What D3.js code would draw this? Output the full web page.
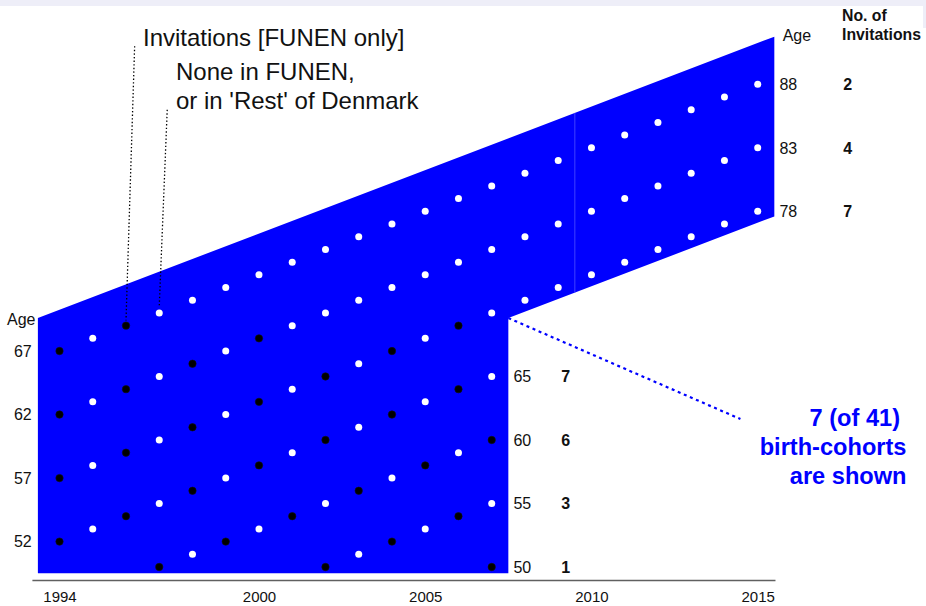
<!DOCTYPE html>
<html>
<head>
<meta charset="utf-8">
<script src="https://cdn.jsdelivr.net/npm/d3@7"></script>
<style>
  html, body { margin: 0; padding: 0; background: #fff; }
  svg { display: block; font-family: "Liberation Sans", Arial, sans-serif; }
</style>
</head>
<body>
<svg id="chart" width="926" height="606"></svg>
<script>
// ---- Data ----
const cohortBirthYears = [1927, 1932, 1937, 1942, 1947, 1952, 1957];
const cohortFirstYears = [1994, 1994, 1994, 1994, 1997, 2002, 2007];
const cohortLastYears  = [2015, 2015, 2015, 2007, 2007, 2007, 2007];
const invitationYears = [
  [1994, 1996],
  [1994, 1996, 1998, 2000],
  [1994, 1996, 1998, 2000, 2002, 2004, 2006],
  [1994, 1996, 1998, 2000, 2002, 2004, 2006],
  [1997, 1999, 2001, 2003, 2005, 2007],
  [2002, 2004, 2006],
  [2007]
];
const yearTicks = [1994, 2000, 2005, 2010, 2015];
// Lexis region (calendar year, age)
const regionYears = [1993.35, 1993.35, 2015.5, 2015.5, 2007.5, 2007.5];
const regionAges  = [49.5, 69.6, 91.75, 77.6, 69.6, 49.5];
const seamYear = 2009.5;
const axisYearRange = [1993.17, 2015.52];
// annotation text
const noteTitle = "Invitations [FUNEN only]";
const noteNone = ["None in FUNEN,", "or in 'Rest' of Denmark"];
const noteCohorts = ["7 (of 41)", "birth-cohorts", "are shown"];
const headerLines = ["No. of", "Invitations"];

// ---- Scales ----
const x = d3.scaleLinear().domain([1994, 2015]).range([59.5, 757.7]);
const y = d3.scaleLinear().domain([50, 88]).range([567, 84.3]);

const svg = d3.select("#chart");

// top frame band
svg.append("rect").attr("x", 0).attr("y", 0).attr("width", 926).attr("height", 6).attr("fill", "#eeeef8");
svg.append("rect").attr("x", 923).attr("y", 0).attr("width", 3).attr("height", 28).attr("fill", "#eeeef8");

// ---- Lexis region polygon ----
const regionPts = regionYears.map((yr, i) => [x(yr), y(regionAges[i])]);
svg.append("path")
  .attr("d", d3.line()(regionPts) + "Z")
  .attr("fill", "#0000ff");

// faint seam inside upper part
const seamTop = regionAges[1] + (seamYear - regionYears[1]);
const seamBottom = regionAges[4] + (seamYear - regionYears[4]);
svg.append("line")
  .attr("x1", x(seamYear)).attr("x2", x(seamYear))
  .attr("y1", y(seamTop)).attr("y2", y(seamBottom))
  .attr("stroke", "#5050ff").attr("stroke-width", 0.8);

// ---- Axis ----
const xAxisScale = d3.scaleLinear().domain(axisYearRange).range(axisYearRange.map(x));
const axis = svg.append("g")
  .attr("transform", "translate(0,580)")
  .call(d3.axisBottom(xAxisScale).tickValues(yearTicks).tickFormat(d3.format("d"))
        .tickSizeInner(0).tickSizeOuter(0).tickPadding(11));
axis.select(".domain").attr("stroke", "#606060").attr("stroke-width", 1.6);
axis.selectAll("text").attr("font-size", 15).attr("fill", "#111")
  .attr("font-family", "'Liberation Sans', Arial, sans-serif");

// ---- Dots ----
const dots = [];
cohortBirthYears.forEach((b, i) => {
  for (let yr = cohortFirstYears[i]; yr <= cohortLastYears[i]; yr++) {
    dots.push({ year: yr, age: yr - b, invited: invitationYears[i].includes(yr) });
  }
});
svg.append("g").selectAll("circle").data(dots).join("circle")
  .attr("cx", d => x(d.year)).attr("cy", d => y(d.age))
  .attr("r", d => d.invited ? 3.7 : 3.5)
  .attr("fill", d => d.invited ? "#000" : "#fff")
  .attr("stroke", d => d.invited ? "#111" : "none")
  .attr("stroke-width", 0.6);

// ---- Left age labels (start year 1994) ----
const leftG = svg.append("g").attr("font-size", 16).attr("fill", "#111");
cohortBirthYears.forEach((b, i) => {
  if (cohortFirstYears[i] === yearTicks[0]) {
    leftG.append("text").attr("x", x(1994) - 27.8).attr("y", y(1994 - b)).attr("dy", "0.36em")
      .attr("text-anchor", "end").text(1994 - b);
  }
});
leftG.append("text").attr("x", 35.5).attr("y", 325).attr("text-anchor", "end").text("Age");

// ---- Right age labels + invitation counts ----
const rightG = svg.append("g").attr("font-size", 16).attr("fill", "#111");
cohortBirthYears.forEach((b, i) => {
  const last = cohortLastYears[i];
  const ay = y(last - b);
  rightG.append("text").attr("x", x(last) + 21.7).attr("y", ay).attr("dy", "0.36em").text(last - b);
  rightG.append("text").attr("x", x(last) + (last === 2015 ? 85.5 : 69.5)).attr("y", ay).attr("dy", "0.36em")
    .attr("font-weight", "bold").text(invitationYears[i].length);
});
rightG.append("text").attr("x", 782.7).attr("y", 40.5).text("Age");
rightG.append("text").attr("x", 842).attr("y", 20.5).attr("font-weight", "bold").attr("font-size", 15.8).text(headerLines[0]);
rightG.append("text").attr("x", 842).attr("y", 40).attr("font-weight", "bold").attr("font-size", 15.8).text(headerLines[1]);

// ---- Annotations ----
const ann = svg.append("g").attr("font-size", 24).attr("fill", "#111");
ann.append("text").attr("x", 143).attr("y", 46).text(noteTitle);
ann.append("text").attr("x", 176).attr("y", 80).text(noteNone[0]);
ann.append("text").attr("x", 176).attr("y", 109.3).text(noteNone[1]);

// dotted leader lines (year, age endpoints)
const leaders = [
  [[1996.26, 91.0], [1996.0, 69.4]],
  [[1997.24, 86.0], [1997.0, 70.5]]
];
svg.append("g").selectAll("line").data(leaders).join("line")
  .attr("x1", d => x(d[0][0])).attr("y1", d => y(d[0][1]))
  .attr("x2", d => x(d[1][0])).attr("y2", d => y(d[1][1]))
  .attr("stroke", "#000").attr("stroke-width", 1.3).attr("stroke-dasharray", "1.4,2.2");

// blue dashed pointer
svg.append("line")
  .attr("x1", x(2007.5)).attr("y1", y(69.6))
  .attr("x2", x(2014.48)).attr("y2", y(61.65))
  .attr("stroke", "#0000ff").attr("stroke-width", 2.2).attr("stroke-dasharray", "3,3.6");

const blue = svg.append("g").attr("font-size", 23.6).attr("font-weight", "bold").attr("fill", "#0000ff")
  .attr("text-anchor", "end");
blue.append("text").attr("x", 900).attr("y", 426).text(noteCohorts[0]);
blue.append("text").attr("x", 906.5).attr("y", 455).text(noteCohorts[1]);
blue.append("text").attr("x", 906.5).attr("y", 484).text(noteCohorts[2]);
</script>
</body>
</html>
